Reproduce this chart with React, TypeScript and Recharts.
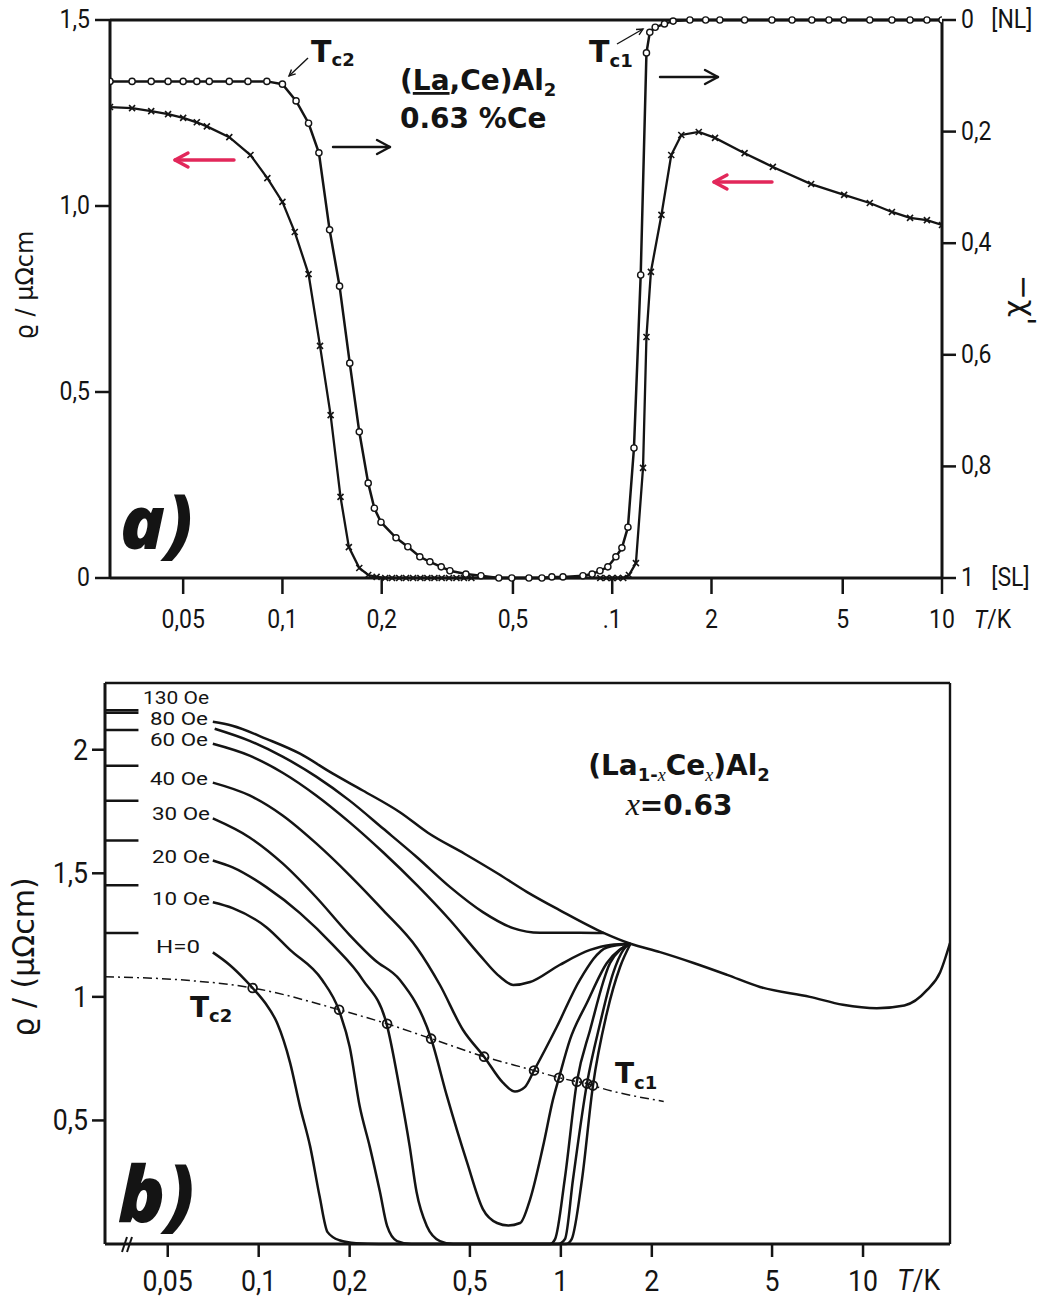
import React from 'react';
import { ComposedChart, Line, XAxis, YAxis, ReferenceLine } from 'recharts';

const INK = '#141414';
const RED = '#e2275a';
const TICK_FONT = 'Roboto, "DejaVu Sans", sans-serif';
const BOLD_FONT = '"DejaVu Sans", Roboto, sans-serif';
const PANEL_FONT = '"Open Sans", "DejaVu Sans", sans-serif';

// ---------- panel a: (La,Ce)Al2 with 0.63 % Ce ----------
const xTicksA = [0.05, 0.1, 0.2, 0.5, 1, 2, 5, 10];
const xTickLabelsA = ['0,05', '0,1', '0,2', '0,5', '.1', '2', '5', '10'];
const rhoTicksA = [0, 0.5, 1, 1.5];
const rhoTickLabelsA = ['0', '0,5', '1,0', '1,5'];
const chiTicksA = [0, 0.2, 0.4, 0.6, 0.8, 1];
const chiTickLabelsA = ['0', '0,2', '0,4', '0,6', '0,8', '1'];
const chiTickNotesA = ['[NL]', '', '', '', '', '[SL]'];

// resistivity (crosses): [T / K, rho / µΩcm]
const rhoCrosses = [
  [0.03, 1.266], [0.035, 1.263], [0.04, 1.255], [0.045, 1.247], [0.05, 1.237], [0.055, 1.225],
  [0.059, 1.214], [0.069, 1.185], [0.08, 1.137], [0.09, 1.075], [0.1, 1.011], [0.109, 0.93],
  [0.12, 0.817], [0.13, 0.624], [0.14, 0.438], [0.15, 0.218], [0.159, 0.083], [0.171, 0.027],
  [0.182, 0.008], [0.193, 0.003], [0.205, 0], [0.215, 0], [0.226, 0], [0.237, 0], [0.249, 0],
  [0.262, 0], [0.275, 0], [0.289, 0], [0.304, 0], [0.32, 0], [0.337, 0], [0.355, 0], [0.374, 0],
  [0.92, 0], [0.96, 0], [1.0, 0], [1.04, 0], [1.08, 0], [1.124, 0.008], [1.18, 0.04],
  [1.24, 0.296], [1.27, 0.648], [1.31, 0.823], [1.41, 0.976], [1.51, 1.137], [1.62, 1.191],
  [1.83, 1.199], [2.05, 1.183], [2.52, 1.142], [3.07, 1.105], [4.01, 1.059], [5.05, 1.03],
  [6.04, 1.008], [7.05, 0.984], [8.0, 0.968], [9.0, 0.962], [10, 0.949],
];

// ac susceptibility -chi' (circles): 0 = normal, 1 = fully superconducting
const chiCircles = [
  [0.03, 0.11], [0.035, 0.11], [0.04, 0.11], [0.045, 0.11], [0.05, 0.11], [0.055, 0.11],
  [0.06, 0.11], [0.069, 0.11], [0.0786, 0.11], [0.0897, 0.11], [0.1, 0.115], [0.11, 0.145],
  [0.12, 0.185], [0.129, 0.238], [0.139, 0.376], [0.149, 0.477], [0.16, 0.615], [0.171, 0.738],
  [0.182, 0.83], [0.19, 0.875], [0.199, 0.9], [0.221, 0.928], [0.24, 0.944], [0.261, 0.962],
  [0.28, 0.971], [0.303, 0.98], [0.322, 0.987], [0.36, 0.993], [0.4, 0.996], [0.453, 1.0],
  [0.496, 1.0], [0.559, 1.0], [0.612, 1.0], [0.656, 0.998], [0.709, 0.998], [0.815, 0.996],
  [0.869, 0.993], [0.918, 0.987], [0.97, 0.98], [1.026, 0.962], [1.07, 0.946], [1.116, 0.909],
  [1.164, 0.767], [1.22, 0.457], [1.27, 0.059], [1.3, 0.022], [1.35, 0.013], [1.44, 0.007],
  [1.53, 0.002], [1.72, 0], [1.92, 0], [2.12, 0], [2.52, 0], [3.05, 0], [3.51, 0], [4.03, 0],
  [4.54, 0], [5.04, 0], [6.04, 0], [7.05, 0], [8.0, 0], [9.0, 0], [10, 0],
];

// ---------- panel b: field dependence, x = 0.63 ----------
const xTicksB = [0.05, 0.1, 0.2, 0.5, 1, 2, 5, 10];
const xTickLabelsB = ['0,05', '0,1', '0,2', '0,5', '1', '2', '5', '10'];
const rhoTicksB = [0.5, 1, 1.5, 2];
const rhoTickLabelsB = ['0,5', '1', '1,5', '2'];

const fieldLabels = ['130 Oe', '80 Oe', '60 Oe', '40 Oe', '30 Oe', '20 Oe', '10 Oe', 'H=0'];
// short pieces of each curve at the left edge, before the labels
const stubLevels = [2.16, 2.15, 2.08, 1.935, 1.794, 1.633, 1.452, 1.258];
const stubT = [0.031, 0.04];

const rho130 = [
  [0.0705, 2.113], [0.0818, 2.097], [0.106, 2.044], [0.137, 1.984], [0.176, 1.903], [0.221, 1.835],
  [0.295, 1.745], [0.363, 1.664], [0.48, 1.579], [0.62, 1.498], [0.771, 1.425], [0.99, 1.351],
  [1.39, 1.258], [1.7, 1.215], [2.13, 1.181], [2.75, 1.137], [3.55, 1.089], [4.56, 1.04],
  [6.67, 1.0], [8.58, 0.968], [11.1, 0.954], [13.7, 0.965], [16.3, 1.028], [18.0, 1.1], [19.4, 1.218],
];
const rho80 = [
  [0.0715, 2.085], [0.0933, 2.036], [0.12, 1.972], [0.155, 1.891], [0.2, 1.794], [0.258, 1.681],
  [0.334, 1.565], [0.43, 1.444], [0.552, 1.343], [0.695, 1.278], [0.853, 1.259], [1.156, 1.259],
  [1.39, 1.258],
];
const rho60 = [
  [0.0705, 2.024], [0.0933, 1.976], [0.12, 1.907], [0.155, 1.815], [0.2, 1.706], [0.258, 1.585],
  [0.334, 1.452], [0.43, 1.31], [0.539, 1.169], [0.629, 1.081], [0.695, 1.048], [0.791, 1.06],
  [0.99, 1.129], [1.25, 1.19], [1.455, 1.21], [1.7, 1.215],
];
const rho40 = [
  [0.0705, 1.867], [0.0933, 1.815], [0.12, 1.734], [0.155, 1.621], [0.2, 1.492], [0.258, 1.351],
  [0.334, 1.198], [0.398, 1.048], [0.474, 0.867], [0.557, 0.758], [0.643, 0.653], [0.705, 0.617],
  [0.76, 0.635], [0.815, 0.702], [0.97, 0.879], [1.156, 1.069], [1.42, 1.2], [1.7, 1.215],
];
const rho30 = [
  [0.0705, 1.722], [0.0933, 1.645], [0.12, 1.54], [0.155, 1.403], [0.2, 1.25], [0.242, 1.149],
  [0.293, 1.069], [0.372, 0.831], [0.42, 0.597], [0.489, 0.331], [0.552, 0.141], [0.615, 0.085],
  [0.67, 0.075], [0.733, 0.085], [0.791, 0.181], [0.873, 0.395], [0.942, 0.585], [0.986, 0.673],
  [1.072, 0.827], [1.22, 0.976], [1.42, 1.137], [1.7, 1.215],
];
const rho20 = [
  [0.0705, 1.552], [0.082, 1.524], [0.106, 1.444], [0.137, 1.339], [0.176, 1.21], [0.221, 1.069],
  [0.265, 0.891], [0.293, 0.625], [0.316, 0.395], [0.333, 0.21], [0.36, 0.073], [0.398, 0.012],
  [0.44, 0], [0.92, 0], [0.957, 0.02], [1.03, 0.262], [1.13, 0.657], [1.25, 0.867],
  [1.455, 1.137], [1.57, 1.19], [1.7, 1.215],
];
const rho10 = [
  [0.0705, 1.383], [0.082, 1.359], [0.106, 1.282], [0.127, 1.19], [0.162, 1.069], [0.184, 0.948],
  [0.2, 0.798], [0.216, 0.556], [0.233, 0.395], [0.252, 0.21], [0.266, 0.073], [0.287, 0.012],
  [0.32, 0], [0.98, 0], [1.032, 0.02], [1.097, 0.262], [1.22, 0.649], [1.35, 0.895],
  [1.49, 1.097], [1.61, 1.19], [1.7, 1.215],
];
const rho0 = [
  [0.0705, 1.18], [0.08, 1.13], [0.09, 1.07], [0.0955, 1.036], [0.105, 0.976], [0.115, 0.895],
  [0.127, 0.734], [0.137, 0.556], [0.148, 0.395], [0.159, 0.194], [0.169, 0.048], [0.185, 0.015],
  [0.21, 0.003], [0.25, 0], [1.04, 0], [1.086, 0.02], [1.175, 0.262], [1.277, 0.641],
  [1.42, 0.935], [1.57, 1.121], [1.7, 1.215],
];
const fieldCurves = [rho130, rho80, rho60, rho40, rho30, rho20, rho10, rho0];

// Tc locus (dash-dot) through the onset points; third entry 1 = marked circle
const tcLocus = [
  [0.031, 1.081, 0], [0.055, 1.069, 0], [0.0955, 1.036, 1], [0.1845, 0.948, 1], [0.266, 0.891, 1],
  [0.372, 0.831, 1], [0.557, 0.758, 1], [0.815, 0.702, 1], [0.986, 0.673, 1], [1.13, 0.657, 1],
  [1.22, 0.649, 1], [1.277, 0.641, 1], [2.19, 0.577, 0],
];

const toPts = (rows: number[][]) => rows.map(([T, v, m]) => ({ T, v, m }));

// ---------- tick renderers ----------
function xTick(values: number[], labels: string[], dy: number, size: number, sx: number) {
  return (props: any) => {
    const { x, y, payload } = props;
    const i = values.indexOf(payload.value);
    return (
      <g transform={`translate(${x},${y + dy}) scale(${sx},1)`}>
        <text textAnchor="middle" fontFamily={TICK_FONT} fontSize={size} fill={INK}>{labels[i]}</text>
      </g>
    );
  };
}

function leftTick(values: number[], labels: string[], dx: number, dy: number, size: number, sx: number) {
  return (props: any) => {
    const { x, y, payload } = props;
    const i = values.indexOf(payload.value);
    return (
      <g transform={`translate(${x + dx},${y + dy}) scale(${sx},1)`}>
        <text textAnchor="end" fontFamily={TICK_FONT} fontSize={size} fill={INK}>{labels[i]}</text>
      </g>
    );
  };
}

const chiTick = (props: any) => {
  const { x, y, payload } = props;
  const i = chiTicksA.indexOf(payload.value);
  return (
    <g transform={`translate(${x + 3},${y + 8}) scale(0.92,1)`}>
      <text fontFamily={TICK_FONT} fontSize={25} fill={INK}>{chiTickLabelsA[i]}</text>
      <text x={33} fontFamily={TICK_FONT} fontSize={25} fill={INK}>{chiTickNotesA[i]}</text>
    </g>
  );
};

// ---------- markers ----------
const circleDot = (p: any) => (
  <circle key={`c${p.index}`} cx={p.cx} cy={p.cy} r={3.1} fill="#fff" stroke={INK} strokeWidth={1.4} />
);
const crossDot = (p: any) => (
  <path
    key={`x${p.index}`}
    d={`M${p.cx - 3},${p.cy - 3}L${p.cx + 3},${p.cy + 3}M${p.cx - 3},${p.cy + 3}L${p.cx + 3},${p.cy - 3}`}
    stroke={INK}
    strokeWidth={1.6}
  />
);
const locusDot = (p: any) =>
  p.payload.m ? (
    <circle key={`t${p.index}`} cx={p.cx} cy={p.cy} r={4.4} fill="none" stroke={INK} strokeWidth={1.8} />
  ) : (
    <g key={`t${p.index}`} />
  );

function PanelA() {
  return (
    <ComposedChart width={1054} height={650} margin={{ top: 20, right: 0, bottom: 0, left: 0 }}>
      <XAxis
        dataKey="T"
        type="number"
        scale="log"
        domain={[0.03, 10]}
        allowDataOverflow
        ticks={xTicksA}
        interval={0}
        height={72}
        tickSize={16}
        axisLine={{ stroke: INK, strokeWidth: 3 }}
        tickLine={{ stroke: INK, strokeWidth: 2.5 }}
        tick={xTick(xTicksA, xTickLabelsA, 32, 25, 0.92)}
      />
      <YAxis
        yAxisId="rho"
        domain={[0, 1.5]}
        ticks={rhoTicksA}
        interval={0}
        width={110}
        tickSize={15}
        axisLine={{ stroke: INK, strokeWidth: 3 }}
        tickLine={{ stroke: INK, strokeWidth: 2.5 }}
        tick={leftTick(rhoTicksA, rhoTickLabelsA, -3, 8, 25, 0.92)}
      />
      <YAxis
        yAxisId="chi"
        orientation="right"
        domain={[0, 1]}
        reversed
        ticks={chiTicksA}
        interval={0}
        width={112}
        tickSize={14}
        axisLine={{ stroke: INK, strokeWidth: 3 }}
        tickLine={{ stroke: INK, strokeWidth: 2.5 }}
        tick={chiTick}
      />
      <ReferenceLine yAxisId="rho" y={1.5} stroke={INK} strokeWidth={3} />
      <Line
        yAxisId="rho"
        data={toPts(rhoCrosses)}
        dataKey="v"
        type="linear"
        stroke={INK}
        strokeWidth={2.3}
        dot={crossDot}
        activeDot={false}
        isAnimationActive={false}
      />
      <Line
        yAxisId="chi"
        data={toPts(chiCircles)}
        dataKey="v"
        type="linear"
        stroke={INK}
        strokeWidth={2.5}
        dot={circleDot}
        activeDot={false}
        isAnimationActive={false}
      />
    </ComposedChart>
  );
}

function PanelB() {
  return (
    <ComposedChart width={1054} height={650} margin={{ top: 33, right: 104, bottom: 0, left: 0 }}>
      <XAxis
        dataKey="T"
        type="number"
        scale="log"
        domain={[0.031, 19.4]}
        allowDataOverflow
        ticks={xTicksB}
        interval={0}
        height={56}
        tickSize={13}
        axisLine={{ stroke: INK, strokeWidth: 3 }}
        tickLine={{ stroke: INK, strokeWidth: 2.5 }}
        tick={xTick(xTicksB, xTickLabelsB, 32, 29, 0.92)}
      />
      <YAxis
        domain={[0, 2.27]}
        ticks={rhoTicksB}
        interval={0}
        width={105}
        tickSize={13}
        axisLine={{ stroke: INK, strokeWidth: 3 }}
        tickLine={{ stroke: INK, strokeWidth: 2.5 }}
        tick={leftTick(rhoTicksB, rhoTickLabelsB, -2, 10, 29, 0.92)}
      />
      <ReferenceLine y={2.27} stroke={INK} strokeWidth={2.6} />
      <ReferenceLine x={19.4} stroke={INK} strokeWidth={2.4} />
      {stubLevels.map((lv, i) => (
        <Line
          key={`s${i}`}
          data={stubT.map((T) => ({ T, v: lv }))}
          dataKey="v"
          stroke={INK}
          strokeWidth={2.5}
          dot={false}
          activeDot={false}
          isAnimationActive={false}
        />
      ))}
      {fieldCurves.map((rows, i) => (
        <Line
          key={fieldLabels[i]}
          name={fieldLabels[i]}
          data={toPts(rows)}
          dataKey="v"
          type="monotone"
          stroke={INK}
          strokeWidth={2.5}
          dot={false}
          activeDot={false}
          isAnimationActive={false}
        />
      ))}
      <Line
        data={toPts(tcLocus)}
        dataKey="v"
        type="monotone"
        stroke={INK}
        strokeWidth={1.5}
        strokeDasharray="9 4 2 4"
        dot={locusDot}
        activeDot={false}
        isAnimationActive={false}
      />
    </ComposedChart>
  );
}

function HArrow({ x1, x2, y, color, w }: { x1: number; x2: number; y: number; color: string; w: number }) {
  const d = Math.sign(x2 - x1);
  return (
    <g stroke={color} strokeWidth={w} fill="none" strokeLinecap="round" strokeLinejoin="round">
      <line x1={x1} y1={y} x2={x2} y2={y} />
      <polyline points={`${x2 - d * 13},${y - 7} ${x2},${y} ${x2 - d * 13},${y + 7}`} />
    </g>
  );
}

function Pointer({ x1, y1, x2, y2 }: { x1: number; y1: number; x2: number; y2: number }) {
  const a = Math.atan2(y2 - y1, x2 - x1);
  const h = 7;
  const p1 = `${x2 - h * Math.cos(a - 0.45)},${y2 - h * Math.sin(a - 0.45)}`;
  const p2 = `${x2 - h * Math.cos(a + 0.45)},${y2 - h * Math.sin(a + 0.45)}`;
  return (
    <g stroke={INK} strokeWidth={1.4} fill="none">
      <line x1={x1} y1={y1} x2={x2} y2={y2} />
      <polyline points={`${p1} ${x2},${y2} ${p2}`} />
    </g>
  );
}

// field labels: [x, baseline, drawn width]
const fieldLabelPos = [
  [143, 704, 66], [150, 725, 58], [150, 746, 58], [150, 785, 58],
  [152, 820, 58], [152, 863, 58], [152, 905, 58], [156, 953, 44],
];

function Annotations() {
  return (
    <svg width={1054} height={1300} style={{ position: 'absolute', left: 0, top: 0, pointerEvents: 'none' }}>
      {/* panel a */}
      <text x={400} y={90} fontFamily={BOLD_FONT} fontWeight={700} fontSize={28} fill={INK}>
        (<tspan style={{ textDecoration: 'underline' }}>La</tspan>,Ce)Al
        <tspan fontSize={18} dy={6}>2</tspan>
      </text>
      <text x={400} y={128} fontFamily={BOLD_FONT} fontWeight={700} fontSize={28} fill={INK}>
        0.63 %Ce
      </text>
      <text x={311} y={62} fontFamily={BOLD_FONT} fontWeight={700} fontSize={30} fill={INK}>
        T<tspan fontSize={18} dy={4}>c2</tspan>
      </text>
      <text x={589} y={62} fontFamily={BOLD_FONT} fontWeight={700} fontSize={30} fill={INK}>
        T<tspan fontSize={18} dy={5}>c1</tspan>
      </text>
      <Pointer x1={308} y1={58} x2={289} y2={76} />
      <Pointer x1={617} y1={44} x2={643} y2={29} />
      <HArrow x1={333} x2={390} y={147} color={INK} w={2.4} />
      <HArrow x1={660} x2={718} y={77} color={INK} w={2.4} />
      <HArrow x1={234} x2={175} y={160} color={RED} w={3.4} />
      <HArrow x1={772} x2={714} y={182} color={RED} w={3.4} />
      <text x={120} y={549} fontFamily={PANEL_FONT} fontWeight={800} fontStyle="italic" fontSize={74} fill={INK}>
        a)
      </text>
      <text transform="translate(33,285) rotate(-90)" textAnchor="middle" fontFamily={BOLD_FONT} fontSize={24} fill={INK}>
        ϱ / μΩcm
      </text>
      <text transform="translate(1014,300) rotate(90)" textAnchor="middle" fontFamily={BOLD_FONT} fontSize={30} fill={INK}>
        −χ'
      </text>
      <g transform="translate(974,628) scale(0.92,1)">
        <text fontFamily={TICK_FONT} fontSize={25} fill={INK}>
          <tspan fontStyle="italic">T</tspan>/K
        </text>
      </g>

      {/* panel b */}
      {fieldLabels.map((t, i) => (
        <text
          key={t}
          x={fieldLabelPos[i][0]}
          y={fieldLabelPos[i][1]}
          textLength={fieldLabelPos[i][2]}
          lengthAdjust="spacingAndGlyphs"
          fontFamily={TICK_FONT}
          fontSize={18}
          fill={INK}
        >
          {t}
        </text>
      ))}
      <text x={679} y={775} textAnchor="middle" fontFamily={BOLD_FONT} fontWeight={700} fontSize={28} fill={INK}>
        (La
        <tspan fontSize={18} dy={6}>1-</tspan>
        <tspan fontSize={18} fontFamily="'Liberation Serif', serif" fontStyle="italic" fontWeight={400}>x</tspan>
        <tspan dy={-6}>Ce</tspan>
        <tspan fontSize={18} dy={6} fontFamily="'Liberation Serif', serif" fontStyle="italic" fontWeight={400}>x</tspan>
        <tspan dy={-6}>)Al</tspan>
        <tspan fontSize={18} dy={6}>2</tspan>
      </text>
      <text x={679} y={815} textAnchor="middle" fontFamily={BOLD_FONT} fontWeight={700} fontSize={28} fill={INK}>
        <tspan fontFamily="'Liberation Serif', serif" fontStyle="italic" fontWeight={400} fontSize={32}>x</tspan>=0.63
      </text>
      <text x={190} y={1017} fontFamily={BOLD_FONT} fontWeight={700} fontSize={28} fill={INK}>
        T<tspan fontSize={18} dy={5}>c2</tspan>
      </text>
      <text x={615} y={1083} fontFamily={BOLD_FONT} fontWeight={700} fontSize={28} fill={INK}>
        T<tspan fontSize={18} dy={6}>c1</tspan>
      </text>
      <text x={118} y={1222} fontFamily={PANEL_FONT} fontWeight={800} fontStyle="italic" fontSize={78} fill={INK}>
        b)
      </text>
      <text transform="translate(34,957) rotate(-90)" textAnchor="middle" fontFamily={BOLD_FONT} fontSize={30} fill={INK}>
        ϱ / (μΩcm)
      </text>
      <g transform="translate(897,1290) scale(0.92,1)">
        <text fontFamily={TICK_FONT} fontSize={29} fill={INK}>
          <tspan fontStyle="italic">T</tspan>/K
        </text>
      </g>
      <g stroke={INK} strokeWidth={2}>
        <line x1={122} y1={1252} x2={127} y2={1237} />
        <line x1={127} y1={1252} x2={132} y2={1237} />
      </g>
    </svg>
  );
}

export default function App() {
  return (
    <div style={{ position: 'absolute', left: 0, top: 0, width: 1054, height: 1300, background: '#fff' }}>
      <div style={{ position: 'absolute', left: 0, top: 0 }}>
        <PanelA />
      </div>
      <div style={{ position: 'absolute', left: 0, top: 650 }}>
        <PanelB />
      </div>
      <Annotations />
    </div>
  );
}
